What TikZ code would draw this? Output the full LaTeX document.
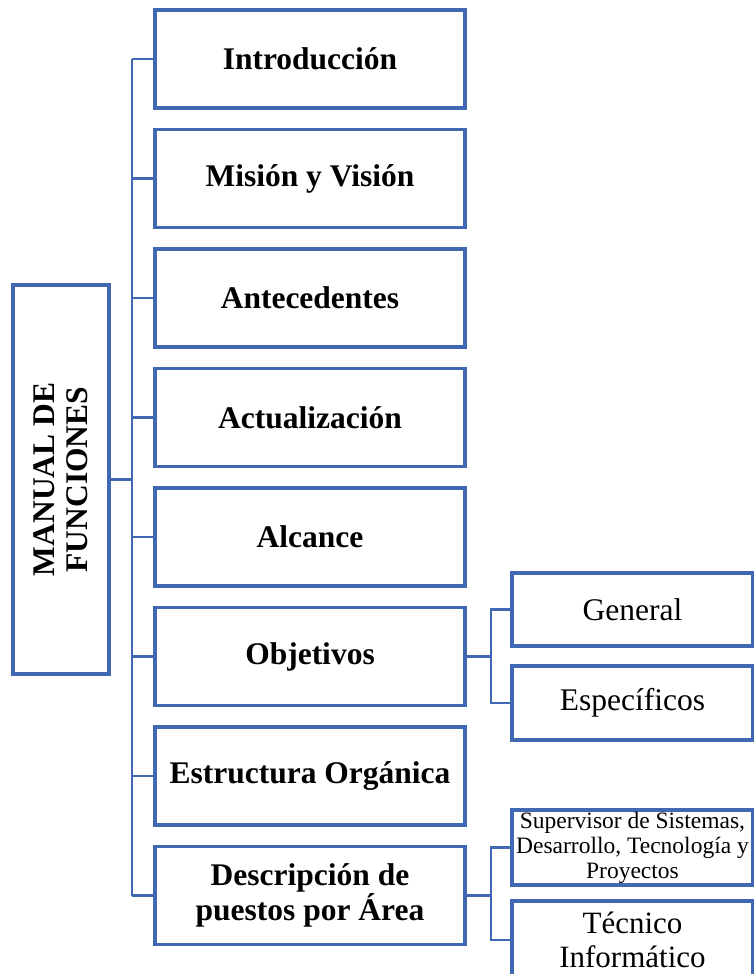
\documentclass[tikz,border=0pt]{standalone}
\usepackage{fontspec}
\setmainfont{Liberation Serif}
\usepackage{graphicx}
\definecolor{officeblue}{HTML}{4169B3}
\tikzset{
  box/.style={draw=officeblue, line width=3.6pt, fill=white, rectangle,
    inner sep=2pt, align=center, text=black,
    font=\fontsize{31.5}{33}\selectfont},
  mainbox/.style={box, minimum width=310pt, minimum height=98pt, font=\fontsize{31.5}{33.5}\selectfont\bfseries},
  subbox/.style={box, minimum width=241pt, minimum height=73pt},
  conn/.style={draw=officeblue, line width=2.2pt}
}
\begin{document}
\begin{tikzpicture}[x=1pt, y=-1pt]
  \useasboundingbox (0,0) rectangle (754,974);
  \clip (0,0) rectangle (754,974);

  % root
  \node[box, minimum width=96pt, minimum height=389pt] (root) at (61,479.5)
    {\rotatebox{90}{\parbox{200pt}{\centering\bfseries\fontsize{31.5}{33}\selectfont MANUAL DE\\FUNCIONES}}};

  % main sections
  \node[mainbox] (b1) at (310,59)    {Introducción};
  \node[mainbox] (b2) at (310,178.5) {Misión y Visión};
  \node[mainbox] (b3) at (310,298)   {Antecedentes};
  \node[mainbox] (b4) at (310,417.5) {Actualización};
  \node[mainbox] (b5) at (310,537)   {Alcance};
  \node[mainbox] (b6) at (310,656.5) {Objetivos};
  \node[mainbox] (b7) at (310,776)   {Estructura Orgánica};
  \node[mainbox] (b8) at (310,895.5) {Descripción de\\puestos por Área};

  % second level
  \node[subbox] (gen) at (632.5,609.5) {General};
  \node[subbox, minimum height=74pt] (esp) at (632.5,703) {Específicos};
  \node[subbox, font=\fontsize{23.5}{25}\selectfont] (sup) at (632.5,847.5)
    {Supervisor de Sistemas,\\Desarrollo, Tecnología y\\Proyectos};
  \node[subbox, minimum height=78pt, font=\fontsize{31}{34}\selectfont] (tec) at (632.5,940)
    {Técnico\\Informático};

  % trunk from root to sections
  \coordinate (tr) at (132,0);
  \draw[conn] (root.east) -- (root.east -| tr);
  \draw[conn] (tr |- b1.west) -- (tr |- b8.west);
  \foreach \b in {b1,b2,b3,b4,b5,b6,b7,b8}
    \draw[conn] (tr |- \b.west) -- (\b.west);

  % objectives branch
  \draw[conn] (b6.east) -- ++(24,0) |- (gen.west);
  \draw[conn] (b6.east) -- ++(24,0) |- (esp.west);

  % positions branch
  \draw[conn] (b8.east) -- ++(24,0) |- (sup.west);
  \draw[conn] (b8.east) -- ++(24,0) |- (tec.west);
\end{tikzpicture}
\end{document}
